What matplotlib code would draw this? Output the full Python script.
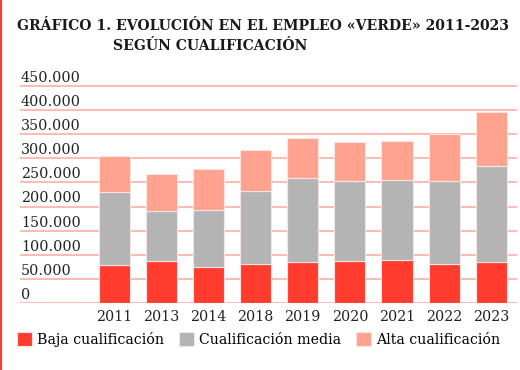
import numpy as np
import matplotlib.pyplot as plt
from matplotlib.lines import Line2D

years = ['2011', '2013', '2014', '2018', '2019', '2020', '2021', '2022', '2023']
baja = [79000, 88000, 76000, 82000, 86000, 87000, 90000, 81000, 86000]
media = [150500, 103000, 118000, 151000, 174000, 166500, 165500, 172500, 198500]
alta = [75500, 76000, 84000, 85000, 82000, 80000, 80000, 96500, 111500]
yticks = [0, 50000, 100000, 150000, 200000, 250000, 300000, 350000, 400000, 450000]

c_baja = '#ff3c2e'
c_media = '#b4b4b4'
c_alta = '#ffa390'
c_grid = '#ffb5ad'

plt.rcParams['font.family'] = 'DejaVu Serif'

fig = plt.figure(figsize=(5.2, 3.7), dpi=100)
ax = fig.add_axes([0.0385, 0.18, 0.956, 0.63])

x = np.arange(len(years))
b = np.array(baja)
m = np.array(media)
a = np.array(alta)

# grid lines + labels sitting on top of them
for t in yticks:
    ax.axhline(t, color=c_grid, lw=1.3, zorder=0)
    lab = '0' if t == 0 else f'{t:,}'.replace(',', '.')
    ax.text(0.002, t + 2500, lab, transform=ax.get_yaxis_transform(),
            ha='left', va='bottom', fontsize=10.3, color='#222222')

w = 0.66
ax.bar(x, b, w, color=c_baja, edgecolor='#fde3df', lw=0.8, zorder=2, label='Baja cualificación')
ax.bar(x, m, w, bottom=b, color=c_media, edgecolor='#f0e6e4', lw=0.8, zorder=2, label='Cualificación media')
ax.bar(x, a, w, bottom=b + m, color=c_alta, edgecolor='#fde3df', lw=0.8, zorder=2, label='Alta cualificación')

ax.set_xlim(-2.0, 8.55)
ax.set_ylim(0, 482000)
ax.set_xticks(x)
ax.set_xticklabels(years, fontsize=10.3, color='#222222')
ax.set_yticks([])
ax.tick_params(axis='x', length=0, pad=5)
for s in ax.spines.values():
    s.set_visible(False)

ax.legend(loc='upper left', bbox_to_anchor=(-0.006, -0.122), ncol=3, frameon=False,
          fontsize=10.15, handlelength=1.08, handleheight=1.08, handletextpad=0.35,
          columnspacing=1.05, borderaxespad=0, borderpad=0)

fig.text(0.033, 0.931, 'GRÁFICO 1. EVOLUCIÓN EN EL EMPLEO «VERDE» 2011-2023',
         fontsize=10.1, fontweight='bold', ha='left', va='center', color='#1a1a1a')
fig.text(0.217, 0.877, 'SEGÚN CUALIFICACIÓN',
         fontsize=10.1, fontweight='bold', ha='left', va='center', color='#1a1a1a')

fig.add_artist(Line2D([0.0015, 0.0015], [0, 1], transform=fig.transFigure, color=c_baja, lw=1.5))

fig.savefig('out.png', dpi=100)
